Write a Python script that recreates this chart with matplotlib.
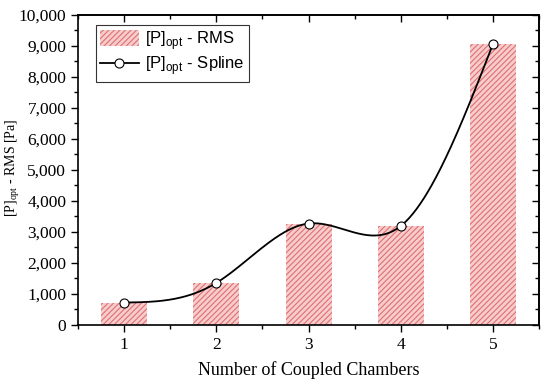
import numpy as np
import matplotlib
matplotlib.use('Agg')
import matplotlib.pyplot as plt
from matplotlib.ticker import FuncFormatter, MultipleLocator

chambers = [1, 2, 3, 4, 5]
p_rms = [720, 1355, 3270, 3190, 9055]


def natural_spline(x, y, xs):
	"""natural cubic spline through (x, y), evaluated at xs"""
	x = np.asarray(x, float)
	y = np.asarray(y, float)
	n = len(x)
	h = np.diff(x)
	A = np.zeros((n, n))
	b = np.zeros(n)
	A[0, 0] = 1
	A[-1, -1] = 1
	for i in range(1, n - 1):
		A[i, i - 1] = h[i - 1]
		A[i, i] = 2 * (h[i - 1] + h[i])
		A[i, i + 1] = h[i]
		b[i] = 6 * ((y[i + 1] - y[i]) / h[i] - (y[i] - y[i - 1]) / h[i - 1])
	M = np.linalg.solve(A, b)
	out = np.empty_like(xs)
	for j, t in enumerate(xs):
		i = min(max(np.searchsorted(x, t) - 1, 0), n - 2)
		a = x[i + 1] - t
		c = t - x[i]
		out[j] = (M[i] * a ** 3 + M[i + 1] * c ** 3) / (6 * h[i]) \
			+ (y[i] / h[i] - M[i] * h[i] / 6) * a \
			+ (y[i + 1] / h[i] - M[i + 1] * h[i] / 6) * c
	return out


plt.rcParams['hatch.linewidth'] = 0.8
plt.rcParams['hatch.color'] = '#e07070'

fig = plt.figure(figsize=(5.5, 3.84), dpi=100)
ax = fig.add_axes([0.142, 0.154, 0.838, 0.807])

bars = ax.bar(chambers, p_rms, width=0.5, color='#f7cccc', hatch='//////',
              edgecolor='#e07070', linewidth=0)

xs = np.linspace(1, 5, 300)
ax.plot(xs, natural_spline(chambers, p_rms, xs), color='black', lw=1.3)
ax.plot(chambers, p_rms, 'o', color='black', mfc='white', ms=6.5, mew=0.8)
# proxy for legend
line, = ax.plot([], [], '-o', color='black', mfc='white', ms=6.5, mew=0.8, lw=1.3)

ax.set_xlim(0.5, 5.5)
ax.set_ylim(0, 10000)
ax.xaxis.set_minor_locator(MultipleLocator(0.5))
ax.yaxis.set_major_locator(MultipleLocator(1000))
ax.yaxis.set_minor_locator(MultipleLocator(500))
ax.yaxis.set_major_formatter(FuncFormatter(lambda v, p: '{:,.0f}'.format(v)))

ax.tick_params(which='both', direction='out', width=1)
ax.tick_params(which='major', length=5)
ax.tick_params(which='minor', length=3)
# mirrored ticks on top and right, pointing inward
ax_t = ax.secondary_xaxis('top')
ax_t.set_xticks(chambers)
ax_t.xaxis.set_minor_locator(MultipleLocator(0.5))
ax_t.tick_params(which='both', direction='in', labeltop=False, width=1)
ax_t.tick_params(which='major', length=5)
ax_t.tick_params(which='minor', length=3)
ax_r = ax.secondary_yaxis('right')
ax_r.yaxis.set_major_locator(MultipleLocator(1000))
ax_r.yaxis.set_minor_locator(MultipleLocator(500))
ax_r.tick_params(which='both', direction='in', labelright=False, width=1)
ax_r.tick_params(which='major', length=5)
ax_r.tick_params(which='minor', length=3)

for lab in ax.get_xticklabels() + ax.get_yticklabels():
	lab.set_family('Liberation Serif')
	lab.set_fontsize(12.5)
for s in ax.spines.values():
	s.set_linewidth(1.2)
ax_t.spines['top'].set_linewidth(1.2)
ax_r.spines['right'].set_linewidth(1.2)

ax.set_xlabel('Number of Coupled Chambers', family='Liberation Serif', fontsize=13,
              labelpad=6)
fig.text(0.024, 0.5625, '[P]$_{\\mathregular{opt}}$ - RMS [Pa]', family='Liberation Serif',
         fontsize=10, rotation=90, ha='center', va='center')

leg = ax.legend([bars, line], ['[P]$_{\\mathregular{opt}}$ - RMS', '[P]$_{\\mathregular{opt}}$ - Spline'],
                loc='upper left', bbox_to_anchor=(0.039, 0.968), fancybox=False,
                edgecolor='black', prop={'family': 'Liberation Sans', 'size': 12},
                handlelength=2.3, handleheight=1.1, borderpad=0.25, labelspacing=0.15,
                handletextpad=0.4, borderaxespad=0)
leg.get_frame().set_linewidth(0.8)

fig.savefig('out.png', dpi=100)
